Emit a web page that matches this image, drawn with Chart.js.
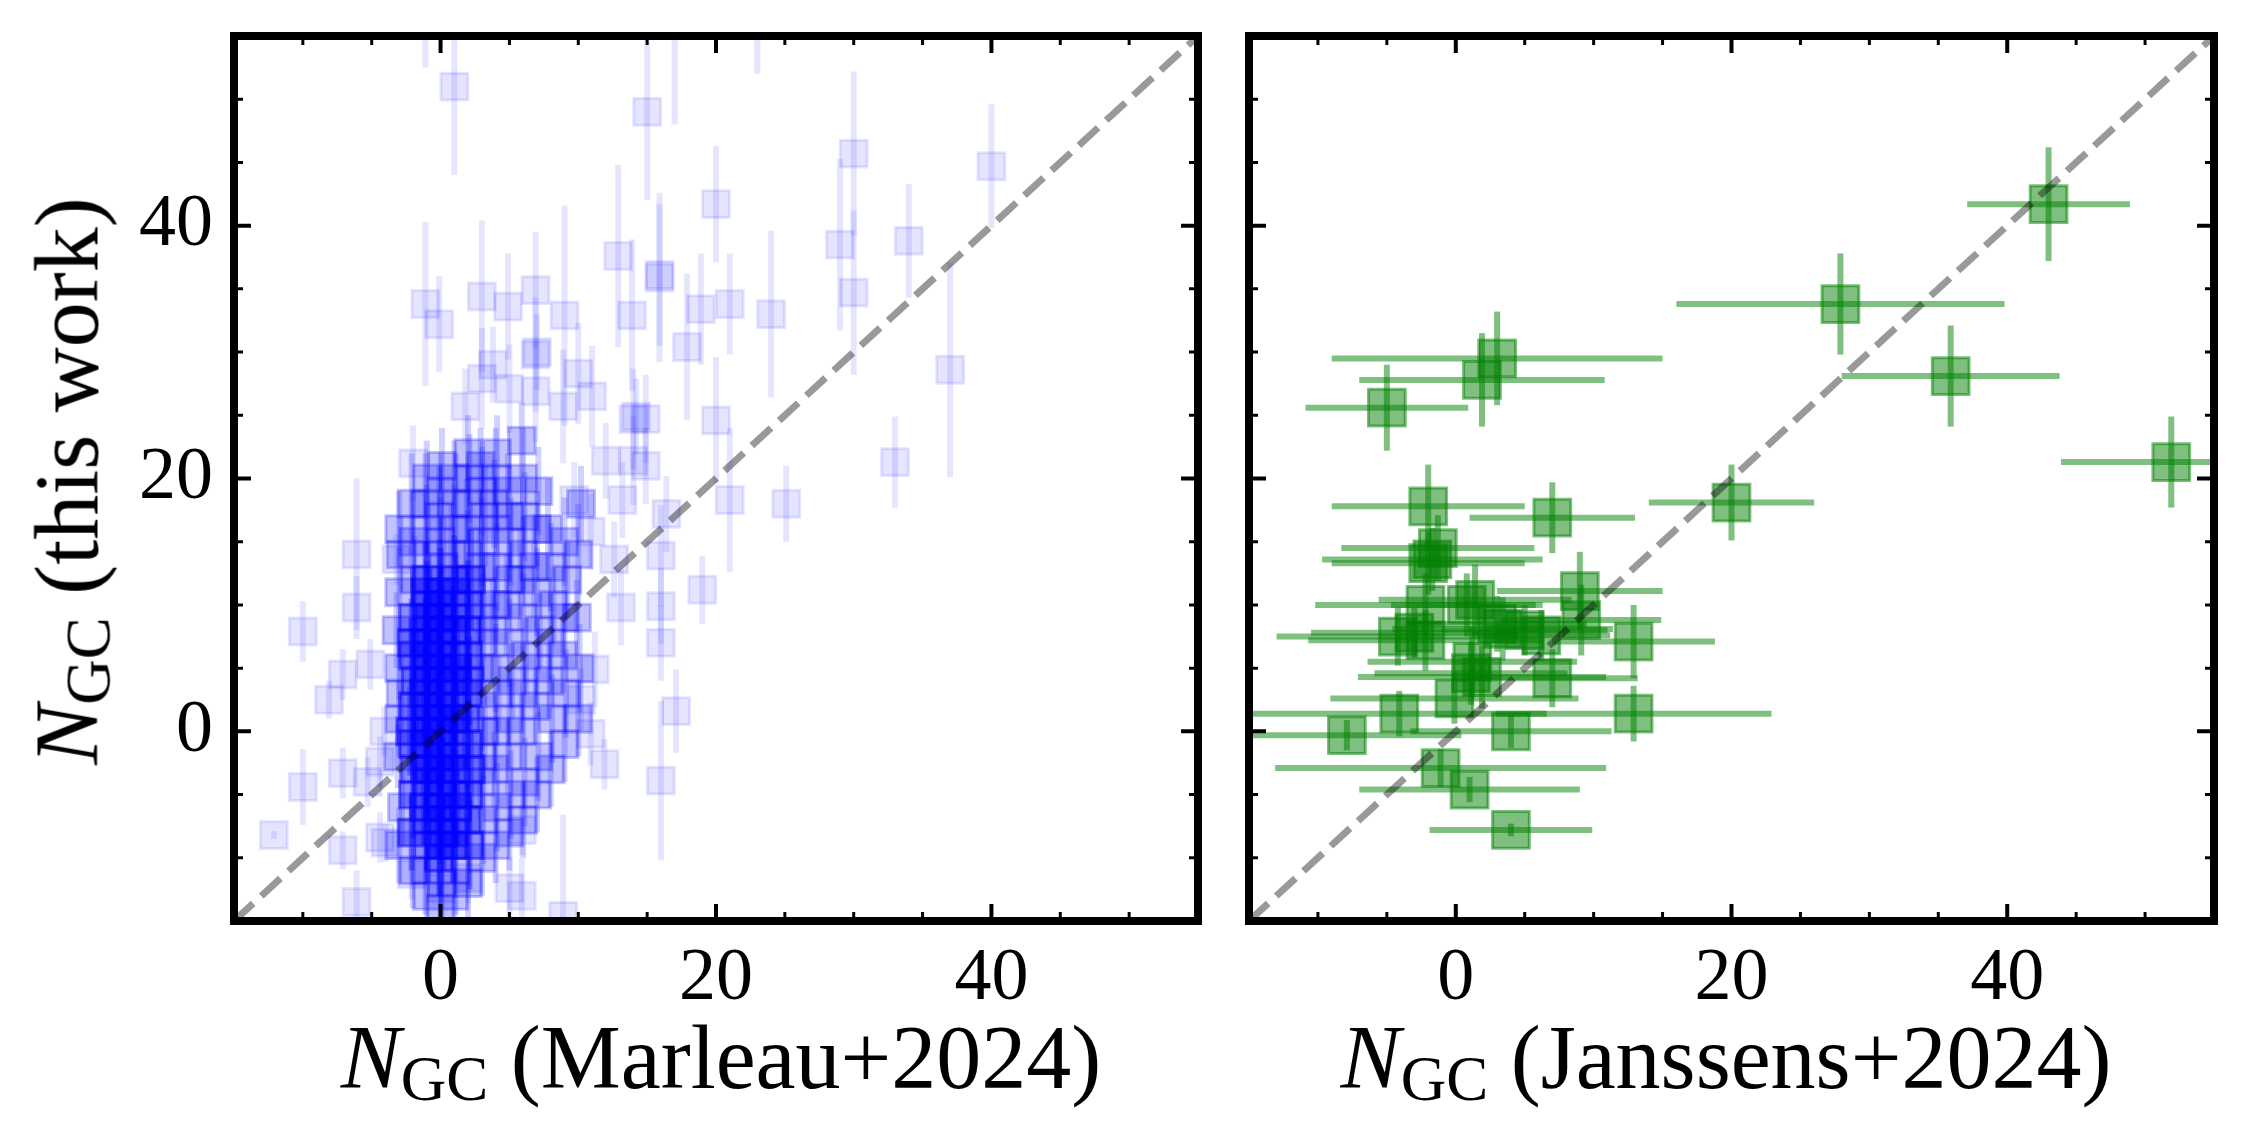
<!DOCTYPE html>
<html>
<head>
<meta charset="utf-8">
<script src="https://cdn.jsdelivr.net/npm/chart.js@4.4.0/dist/chart.umd.min.js"></script>
<style>
  html, body { margin: 0; padding: 0; background: #fff; }
  #page { position: relative; width: 2249px; height: 1146px; overflow: hidden;
          font-family: "Liberation Serif", "Times New Roman", serif; }
  canvas { position: absolute; top: 0; }
  .axis-title { position: absolute; font-size: 90px; line-height: 90px; white-space: nowrap; color: #000; }
  .axis-title i { font-style: italic; }
  .axis-title .sub { font-size: 63px; vertical-align: -12px; }
</style>
</head>
<body>
<div id="page">
  <canvas id="leftChart" width="1220" height="1146" style="left:0;width:1220px;height:1146px"></canvas>
  <canvas id="rightChart" width="1029" height="1146" style="left:1220px;width:1029px;height:1146px"></canvas>
  <div class="axis-title" id="yTitle" style="left:78px;top:481px;transform:translate(-50%,-50%) rotate(-90deg)"><i>N</i><span class="sub">GC</span> (this work)</div>
  <div class="axis-title" id="xTitleLeft" style="left:721px;top:1013px;transform:translateX(-50%)"><i>N</i><span class="sub">GC</span> (Marleau+2024)</div>
  <div class="axis-title" id="xTitleRight" style="left:1726px;top:1013px;transform:translateX(-50%)"><i>N</i><span class="sub">GC</span> (Janssens+2024)</div>
</div>

<script>
/* =========================
   DATA
========================= */

// axis ticks
const tickValues = [0, 20, 40];
const minorTickValues = [-10, -5, 0, 5, 10, 15, 20, 25, 30, 35, 40, 45, 50];
const axisRange = [-15, 55];

// Marleau+2024 comparison, scattered points
const marleauX = [
  1, -1.1, 15, 17, 23, 41, 20, 12.9, 15.9, 15.9,
  -1.1, -0.1, 3.0, 4.9, 6.9, 9.0, 13.9, 18.9, 17.9, 6.9,
  7.0, 3.8, 3.0, 5.0, 6.9, 8.9, 10.0, 11.0, 1.8, 14.0,
  14.2, 14.9, 12.0, 14.0, 14.9, 20.0, -2.0, 24.0, 25.1, 21.0,
  21.0, 30.0, 30.0, 29.0, 34.0, 33.0, 37.0, 40.0, 17.1, 16.0,
  19.0, -12.1, -10.0, -10.0, -6.1, -6.1, -7.1, -8.1, -7.1, -7.1,
  -6.1, -4.4, -4.0, -3.2, -5.1, -4.1, -4.4, -5.3, 5.9, 5.0,
  5.9, 8.9, 2.0, 0.0, -2.1, 11.9, 10.9, 11.2, 10.2, 16.0,
  16.0, 13.1, 13.2, 16.0, 16.4, 10.9, 12.6, 9.7
];
const marleauY = [
  51, 59, 49, 56, 57, 59, 41.7, 37.6, 35.9, 36.1,
  33.8, 32.2, 34.4, 33.6, 34.9, 32.9, 32.9, 33.4, 30.4, 29.8,
  30.0, 29.0, 27.9, 27.1, 26.9, 25.7, 28.3, 26.5, 25.7, 24.7,
  24.9, 24.7, 21.4, 21.4, 21.0, 24.6, 21.2, 33.0, 18.0, 18.3,
  33.8, 45.7, 34.7, 38.5, 38.8, 21.3, 28.6, 44.7, 1.6, -3.9,
  11.2, -8.2, 7.9, -4.4, 14.0, 9.8, 4.5, 2.5, -3.3, -9.4,
  -13.5, -8.4, -8.8, 13.6, 5.3, 0.0, -2.4, -4.0, -7.8, -12.4,
  -13.0, -14.6, -11.6, -12.4, -11.3, -2.6, -0.2, 4.9, 2.5, 7.0,
  9.9, 9.8, 18.3, 13.9, 17.2, 15.8, 13.6, 18.3
];
const marleauErr = [
  7, 6.5, 7, 8, 5, 4, 4.6, 7.2, 6.7, 5.6,
  6.5, 3.8, 6, 4.2, 4.6, 8.7, 6, 4.4, 5.8, 4.5,
  3, 3, 4, 3.5, 4, 4.5, 4, 4, 3, 4,
  3, 3.5, 3, 3.5, 3, 5, 3, 6.6, 3, 5.7,
  4, 6.5, 6.5, 6.8, 4.5, 3.6, 8.5, 4.9, 3.3, 6.3,
  2.7, 0.3, 2.4, 3, 6, 2.5, 2, 1.5, 2, 1.5,
  2.5, 2, 1.5, 2, 2, 2, 2, 2, 2, 2.5,
  3, 8, 2, 2, 2, 2, 2.5, 3, 2.5, 3,
  3, 3, 3, 4, 3, 3, 3, 3
];

// Marleau+2024, heavily stacked centre (N = -2 ... 2, this work = -10 ... 12)
const innerX = [
  -2.1, -2, -1.9, -2, -2.2, -2, -1.8, -2, -2.1, -2,
  -0.9, -1, -1.2, -1, -0.8, -1, -1.1, -1, -0.9, -1, -1.2, -1, -0.9, -1, -1.1, -1, -0.8, -1, -1.1, -1,
  -0.1, 0, 0.2, 0, -0.2, 0, 0.1, 0, -0.1, 0, 0.2, 0, -0.1, 0, 0.1, 0, -0.2, 0, 0.1, 0, -0.1, 0,
  0.9, 1, 1.2, 1, 0.8, 1, 1.1, 1, 0.9, 1, 1.2, 1, 0.9, 1, 1.1, 1,
  2.1, 1.9, 2, 2.2, 2, 1.8, 2, 2.1, 2, 1.9, 2, 2.2
];
const innerY = [
  -8, -5, -3, -1, 0, 2, 4, 6, 7, 9,
  -9, -7, -6, -4, -3, -2, -1, 0, 1, 2, 3, 4, 5, 6, 7, 8, 9, 10, 11, 12,
  -10, -9, -8, -7, -6, -5, -4, -3, -2, -1, 0, 1, 2, 3, 4, 5, 6, 7, 8, 9, 10, 11,
  -9, -8, -6, -5, -3, -2, 0, 1, 2, 4, 5, 6, 8, 9, 11, 12,
  -9, -7, -5, -3, -1, 1, 3, 4, 6, 8, 10, 12
];
const innerErr = [
  3, 3.5, 3, 3, 3.5, 3, 4, 3, 3.5, 4,
  3, 4, 3, 3.5, 3, 4, 3, 3.5, 4, 3, 3.5, 4, 3, 4, 3.5, 3, 4, 3.5, 4, 3,
  3, 4, 3, 3.5, 4, 3, 3.5, 4, 3, 3.5, 4, 3, 3.5, 4, 3, 3.5, 4, 3, 3.5, 4, 3, 3.5,
  3, 4, 3, 3.5, 4, 3, 3.5, 4, 3, 3.5, 4, 3, 3.5, 4, 3, 3.5,
  3.5, 3, 4, 3, 3.5, 4, 3, 3.5, 4, 3, 3.5, 4
];

// Marleau+2024, crowded surroundings of the centre
const outerX = [
  -2, -1.9, -2, -2.1,
  -1, -1.1, -0.9, -1, -1.1, -1,
  0, 0.1, 0.2, 0, -0.1, 0, 0.1,
  1, 1.1, 0.8, 1, 1.1, 1,
  2, 2, 1.9, 2, 2.1, 2,
  -3, -2.8, -3.1, -3, -2.9, -3, -3.2, -3, -2.9, -3,
  3, 3.1, 2.9, 3, 3.2, 3, 2.8, 3, 3.1, 3, 2.9, 3, 3.2, 3, 2.9,
  4, 4.1, 3.9, 4, 4.2, 4, 3.8, 4, 4.1, 4, 3.9, 4, 4.1,
  5, 5.1, 4.9, 5, 5.2, 5, 4.8, 5, 5.1, 5, 4.9,
  6, 6.1, 5.9, 6, 6.2, 6, 5.8, 6, 6.1, 6, 5.9,
  7, 7.1, 6.9, 7, 7.2, 7, 6.8, 7, 7.1,
  8, 8.1, 7.9, 8, 8.2, 8, 7.8,
  9, 9.1, 8.9, 9, 9.2, 9,
  10, 10.1, 9.9, 10, 10.2
];
const outerY = [
  -11, 12, 15, 18,
  -13, -11, 14, 16, 18, 20,
  -14, -12, 13, 15, 17, 19, 21,
  -13, -11, 14, 16, 18, 20,
  -12, 14, 16, 18, 20, 22,
  -9, -6, -2, 1, 3, 5, 8, 11, 14, 16,
  -10, -7, -4, -2, 0, 2, 5, 7, 9, 11, 13, 15, 17, 19, 21,
  -9, -6, -3, 0, 3, 5, 8, 10, 13, 16, 18, 20, 22,
  -8, -5, -2, 1, 4, 7, 10, 12, 15, 17, 19,
  -7, -4, 0, 3, 6, 9, 12, 14, 17, 20, 23,
  -5, -2, 2, 5, 8, 11, 13, 16, 19,
  -3, 1, 4, 7, 10, 13, 16,
  -1, 3, 6, 9, 12, 15,
  1, 5, 9, 14, 18
];
const outerErr = [
  3, 3.5, 4, 4,
  3, 3.5, 4, 3.5, 4, 3,
  3, 3.5, 4, 3.5, 4, 3, 3,
  3, 3.5, 4, 3.5, 4, 3,
  3, 3.5, 4, 3, 3.5, 3,
  3, 3, 2.5, 3, 3, 2.5, 3, 3.5, 3, 3,
  3, 3.5, 3, 4, 3, 3.5, 4, 3, 3.5, 4, 3, 3.5, 4, 3.5, 3,
  3, 3.5, 3, 4, 3, 3.5, 4, 3, 3.5, 4, 3.5, 4, 3,
  3, 3.5, 3, 4, 3, 3.5, 4, 3, 3.5, 4, 3,
  3, 3.5, 3, 4, 3, 3.5, 4, 3, 3.5, 4, 3,
  3, 3.5, 3, 4, 3, 3.5, 4, 3, 3.5,
  3, 3.5, 3, 4, 3, 3.5, 4,
  3, 3.5, 3, 4, 3, 3.5,
  3, 3.5, 3, 4, 3
];

// Janssens+2024 comparison
const janssensX = [
  43.0, 27.9, 35.9, 51.9, 20.0, 3.0, 1.9, -5.0, -2.0, 7.0,
  -1.3, -1.7, -2.0, 9.0, 1.4, -2.2, 9.1, -4.2, -2.2, 3.4,
  5.0, 6.2, 12.9, 1.2, 1.1, 1.9, 7.0, -0.1, -4.1, 12.9,
  -7.9, 4.0, -1.1, 1.0, 4.0, -3.0, 0.8, 3.0
];
const janssensY = [
  41.7, 33.8, 28.1, 21.3, 18.1, 29.5, 27.8, 25.6, 17.8, 16.9,
  14.5, 13.6, 13.3, 11.1, 10.4, 10.0, 8.8, 7.5, 7.2, 8.1,
  8.0, 7.6, 7.1, 5.5, 4.6, 4.3, 4.2, 2.6, 1.4, 1.4,
  -0.3, 0.0, -2.9, -4.6, -7.8, 7.8, 10.0, 8.5
];
const janssensXErr = [
  5.9, 11.9, 7.9, 8.0, 6.0, 12.0, 8.9, 5.9, 7.0, 6.0,
  7.0, 8.0, 7.0, 6.0, 7.0, 8.0, 5.8, 8.8, 8.5, 8.0,
  6.0, 5.0, 5.9, 7.6, 7.0, 9.0, 6.2, 9.0, 10.7, 10.0,
  8.3, 7.3, 12.0, 8.0, 5.9, 7.5, 5.5, 6.5
];
const janssensYErr = [
  4.5, 4.0, 4.0, 3.6, 3.0, 3.7, 3.7, 3.4, 3.3, 2.8,
  2.6, 2.5, 2.5, 3.1, 2.8, 2.5, 2.8, 2.3, 2.4, 2.5,
  2.0, 2.0, 2.9, 2.8, 2.5, 2.5, 2.3, 2.0, 1.8, 2.2,
  1.2, 1.3, 1.5, 1.0, 0.5, 2.0, 2.5, 2.2
];

/* =========================
   PLUGINS
========================= */

// error bars, drawn under the markers
const errorBarPlugin = {
  id: "errorBars",
  beforeDatasetsDraw(chart) {
    const { ctx, chartArea: a, scales: { x, y } } = chart;
    ctx.save();
    ctx.beginPath();
    ctx.rect(a.left, a.top, a.right - a.left, a.bottom - a.top);
    ctx.clip();
    ctx.lineCap = "butt";
    chart.data.datasets.forEach(ds => {
      if (!ds.errColor) return;
      ctx.strokeStyle = ds.errColor;
      ctx.lineWidth = ds.errWidth;
      ds.data.forEach((p, i) => {
        const px = x.getPixelForValue(p.x);
        const py = y.getPixelForValue(p.y);
        if (ds.yErr) {
          const e = ds.yErr[i];
          ctx.beginPath();
          ctx.moveTo(px, y.getPixelForValue(p.y - e));
          ctx.lineTo(px, y.getPixelForValue(p.y + e));
          ctx.stroke();
        }
        if (ds.xErr) {
          const e = ds.xErr[i];
          ctx.beginPath();
          ctx.moveTo(x.getPixelForValue(p.x - e), py);
          ctx.lineTo(x.getPixelForValue(p.x + e), py);
          ctx.stroke();
        }
      });
    });
    ctx.restore();
  }
};

// thick box with inward ticks on all four sides
const framePlugin = {
  id: "frame",
  afterDraw(chart) {
    const { ctx, chartArea: a, scales: { x, y } } = chart;
    ctx.save();
    ctx.strokeStyle = "#000";
    ctx.lineCap = "butt";
    minorTickValues.forEach(v => {
      const major = tickValues.includes(v);
      const len = major ? 17 : 9;
      const px = x.getPixelForValue(v);
      const py = y.getPixelForValue(v);
      ctx.lineWidth = major ? 4 : 3;
      ctx.beginPath();
      ctx.moveTo(px, a.bottom); ctx.lineTo(px, a.bottom - len);
      ctx.moveTo(px, a.top); ctx.lineTo(px, a.top + len);
      ctx.moveTo(a.left, py); ctx.lineTo(a.left + len, py);
      ctx.moveTo(a.right, py); ctx.lineTo(a.right - len, py);
      ctx.stroke();
    });
    ctx.lineWidth = 8;
    ctx.strokeRect(a.left, a.top, a.right - a.left, a.bottom - a.top);
    ctx.restore();
  }
};

/* =========================
   CHARTS
========================= */

const tickFont = { family: "'Liberation Serif', 'Times New Roman', serif", size: 74 };

function toPoints(xs, ys) {
  return xs.map((v, i) => ({ x: v, y: ys[i] }));
}

function oneToOneLine() {
  return {
    type: "line",
    data: toPoints(axisRange, axisRange),
    borderColor: "rgba(0,0,0,0.4)",
    borderWidth: 7,
    borderDash: [26, 11],
    pointRadius: 0,
    fill: false
  };
}

function squares(label, xs, ys, err, alpha, errAlpha) {
  return {
    label: label,
    data: toPoints(xs, ys),
    pointStyle: "rect",
    pointRadius: 19,
    backgroundColor: `rgba(0,0,255,${alpha})`,
    borderColor: `rgba(0,0,255,${alpha})`,
    borderWidth: 3,
    clip: 0,
    yErr: err,
    errColor: `rgba(0,0,255,${errAlpha})`,
    errWidth: 6
  };
}

function panelOptions(showYLabels, yWidth, padRight) {
  return {
    responsive: false,
    animation: false,
    devicePixelRatio: 1,
    events: [],
    layout: { padding: { top: 36, right: padRight, left: 0, bottom: 0 } },
    plugins: { legend: { display: false }, tooltip: { enabled: false } },
    scales: {
      x: {
        type: "linear",
        min: axisRange[0],
        max: axisRange[1],
        grid: { display: false, drawTicks: false },
        border: { display: false },
        afterBuildTicks: s => { s.ticks = tickValues.map(v => ({ value: v })); },
        afterFit: s => { s.height = 225; s.paddingLeft = 0; s.paddingRight = 0; },
        ticks: { font: tickFont, color: "#000", padding: 14, maxRotation: 0, autoSkip: false }
      },
      y: {
        type: "linear",
        min: axisRange[0],
        max: axisRange[1],
        grid: { display: false, drawTicks: false },
        border: { display: false },
        afterBuildTicks: s => { s.ticks = tickValues.map(v => ({ value: v })); },
        afterFit: s => { s.width = yWidth; s.paddingTop = 0; s.paddingBottom = 0; },
        ticks: { display: showYLabels, font: tickFont, color: "#000", padding: 21, autoSkip: false }
      }
    }
  };
}

new Chart(document.getElementById("leftChart"), {
  type: "scatter",
  data: {
    datasets: [
      oneToOneLine(),
      squares("Marleau+2024", marleauX, marleauY, marleauErr, 0.1, 0.1),
      squares("Marleau+2024 (crowded)", outerX, outerY, outerErr, 0.24, 0.18),
      squares("Marleau+2024 (stacked)", innerX, innerY, innerErr, 0.45, 0.35)
    ]
  },
  options: panelOptions(true, 234, 12),
  plugins: [errorBarPlugin, framePlugin]
});

new Chart(document.getElementById("rightChart"), {
  type: "scatter",
  data: {
    datasets: [
      oneToOneLine(),
      {
        label: "Janssens+2024",
        data: toPoints(janssensX, janssensY),
        pointStyle: "rect",
        pointRadius: 26,
        backgroundColor: "rgba(0,128,0,0.5)",
        borderColor: "rgba(0,128,0,0.5)",
        borderWidth: 3,
        clip: 0,
        yErr: janssensYErr,
        xErr: janssensXErr,
        errColor: "rgba(0,128,0,0.5)",
        errWidth: 6
      }
    ]
  },
  options: panelOptions(false, 19, 35),
  plugins: [errorBarPlugin, framePlugin]
});
</script>
</body>
</html>
